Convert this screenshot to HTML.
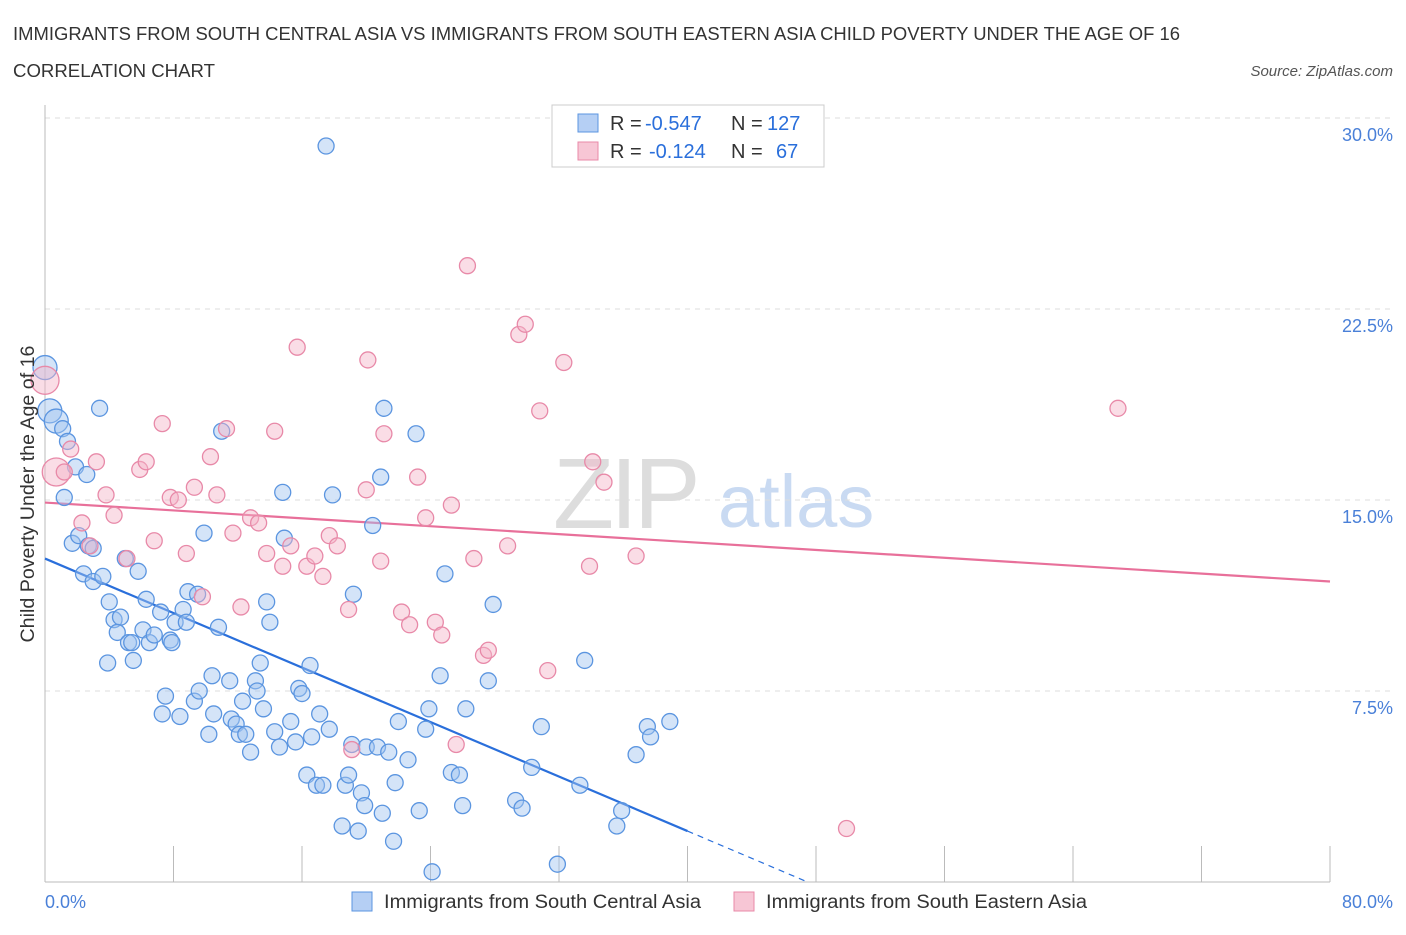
<!DOCTYPE html>
<html><head><meta charset="utf-8"><style>
body{margin:0;background:#fff;font-family:"Liberation Sans",sans-serif;}
svg text{font-family:"Liberation Sans",sans-serif;}
</style></head><body>
<svg id="chart" width="1406" height="930" viewBox="0 0 1406 930" xmlns="http://www.w3.org/2000/svg">
<text x="13" y="40" font-size="18" fill="#333" textLength="1167" lengthAdjust="spacingAndGlyphs">IMMIGRANTS FROM SOUTH CENTRAL ASIA VS IMMIGRANTS FROM SOUTH EASTERN ASIA CHILD POVERTY UNDER THE AGE OF 16</text>
<text x="13" y="77" font-size="18" fill="#333" textLength="202" lengthAdjust="spacingAndGlyphs">CORRELATION CHART</text>
<text x="1393" y="76" font-size="15" fill="#555" font-style="italic" text-anchor="end">Source: ZipAtlas.com</text>
<g>
<text x="553" y="528" font-size="100" fill="#ddd" font-family="Liberation Serif" letter-spacing="-4">ZIP</text>
<text x="718" y="527" font-size="74" fill="#c9daf2">atlas</text>
</g>
<g id="grid"></g>
<g id="axes"></g>
<g id="lines"></g>
<g id="points"></g>
<text transform="translate(34,494) rotate(-90)" font-size="19" fill="#333" text-anchor="middle" textLength="297" lengthAdjust="spacingAndGlyphs">Child Poverty Under the Age of 16</text>
<g>
<rect x="552" y="105" width="272" height="62" fill="#fff" stroke="#ccc"/>
<rect x="578" y="114" width="20" height="18" fill="#b5cff4" stroke="#5b95e0"/>
<text x="610" y="130" font-size="20" fill="#333">R =</text>
<text x="645" y="130" font-size="20" fill="#2a6fdb">-0.547</text>
<text x="731" y="130" font-size="20" fill="#333">N =</text>
<text x="767" y="130" font-size="20" fill="#2a6fdb">127</text>
<rect x="578" y="142" width="20" height="18" fill="#f7c6d5" stroke="#e889a8"/>
<text x="610" y="158" font-size="20" fill="#333">R =</text>
<text x="649" y="158" font-size="20" fill="#2a6fdb">-0.124</text>
<text x="731" y="158" font-size="20" fill="#333">N =</text>
<text x="776" y="158" font-size="20" fill="#2a6fdb">67</text>
</g>
<g>
<rect x="352" y="892" width="20" height="19" fill="#b5cff4" stroke="#5b95e0"/>
<text x="384" y="908" font-size="19" fill="#333" textLength="317" lengthAdjust="spacingAndGlyphs">Immigrants from South Central Asia</text>
<rect x="734" y="892" width="20" height="19" fill="#f7c6d5" stroke="#e889a8"/>
<text x="766" y="908" font-size="19" fill="#333" textLength="321" lengthAdjust="spacingAndGlyphs">Immigrants from South Eastern Asia</text>
</g>
</svg>
<script>
const yTicks=[7.5,15,22.5,30];
const yTickLabels=["7.5%","15.0%","22.5%","30.0%"];
const xTicks=[0,8,16,24,32,40,48,56,64,72,80];
const blueX=[17.5,0,0.3,0.7,1.1,1.4,3.4,1.9,2.6,1.2,1.7,2.1,2.7,3.0,5.0,5.8,2.4,3.0,3.6,4.0,4.3,4.7,4.5,5.2,5.4,6.3,6.1,6.5,6.8,7.2,7.8,8.1,8.6,8.9,9.5,8.8,7.9,3.9,5.5,10.8,9.9,11.0,7.5,7.3,8.4,9.3,9.6,10.4,10.5,11.5,11.6,11.9,10.2,12.1,12.5,12.8,12.3,13.1,13.2,13.4,13.6,13.8,14.0,14.3,14.6,14.8,14.9,15.3,15.6,15.8,16.0,16.5,16.6,16.3,16.9,17.3,17.1,17.7,17.9,18.7,18.9,18.5,19.1,19.2,19.5,19.7,19.9,20.0,20.4,20.7,20.9,21.0,21.1,21.4,21.7,21.8,22.0,22.6,23.1,23.3,23.7,23.9,24.1,24.6,24.9,25.3,25.8,26.0,26.2,27.6,27.9,29.3,29.7,30.3,30.9,31.9,33.3,33.6,35.6,35.9,36.8,37.5,37.7,38.9];
const blueY=[28.9,20.2,18.5,18.1,17.8,17.3,18.6,16.3,16.0,15.1,13.3,13.6,13.2,13.1,12.7,12.2,12.1,11.8,12.0,11.0,10.3,10.4,9.8,9.4,9.4,11.1,9.9,9.4,9.7,10.6,9.5,10.2,10.7,11.4,11.3,10.2,9.4,8.6,8.7,10.0,13.7,17.7,7.3,6.6,6.5,7.1,7.5,8.1,6.6,7.9,6.4,6.2,5.8,5.8,5.8,5.1,7.1,7.9,7.5,8.6,6.8,11.0,10.2,5.9,5.3,15.3,13.5,6.3,5.5,7.6,7.4,8.5,5.7,4.2,3.8,3.8,6.6,6.0,15.2,3.8,4.2,2.2,5.4,11.3,2.0,3.5,3.0,5.3,14.0,5.3,15.9,2.7,18.6,5.1,1.6,3.9,6.3,4.8,17.6,2.8,6.0,6.8,0.4,8.1,12.1,4.3,4.2,3.0,6.8,7.9,10.9,3.2,2.9,4.5,6.1,0.7,3.8,8.7,2.2,2.8,5.0,6.1,5.7,6.3];
const pinkX=[0,0.7,1.6,1.2,2.3,2.8,3.2,3.8,4.3,5.1,5.9,6.3,6.8,7.3,7.8,8.3,8.8,9.3,9.8,10.3,10.7,11.3,11.7,12.2,12.8,13.3,13.8,14.3,14.8,15.3,15.7,16.3,16.8,17.3,17.7,18.2,18.9,19.1,20.0,20.1,20.9,21.1,22.2,22.7,23.2,23.7,24.3,24.7,25.3,25.6,26.3,26.7,27.3,27.6,28.8,29.5,29.9,30.8,31.3,32.3,33.9,34.1,34.8,36.8,49.9,66.8];
const pinkY=[19.7,16.1,17.0,16.1,14.1,13.2,16.5,15.2,14.4,12.7,16.2,16.5,13.4,18.0,15.1,15.0,12.9,15.5,11.2,16.7,15.2,17.8,13.7,10.8,14.3,14.1,12.9,17.7,12.4,13.2,21.0,12.4,12.8,12.0,13.6,13.2,10.7,5.2,15.4,20.5,12.6,17.6,10.6,10.1,15.9,14.3,10.2,9.7,14.8,5.4,24.2,12.7,8.9,9.1,13.2,21.5,21.9,18.5,8.3,20.4,12.4,16.5,15.7,12.8,2.1,18.6];
const blueLarge=[1,2,3];
const pinkLarge=[0,1];
const blueTrend=[12.7,-0.2675];
const pinkTrend=[14.9,-0.03875];

const X0=45,X1=1330,Y0=882,PX=(X1-X0)/80,PY=191/7.5;
const sx=v=>X0+v*PX, sy=v=>Y0-v*PY;
const NS="http://www.w3.org/2000/svg";
function mk(tag,parent,attrs){const e=document.createElementNS(NS,tag);for(const k in attrs)e.setAttribute(k,attrs[k]);document.getElementById(parent).appendChild(e);return e;}

yTicks.forEach((t,i)=>{
 const g=mk('line','grid',{x1:X0,x2:1393,y1:sy(t),y2:sy(t),stroke:'#ddd','stroke-dasharray':'5,5'});
 
 
 const l=mk('text','axes',{x:1393,y:sy(t)+23,'font-size':18,fill:'#4a80d8','text-anchor':'end'});
 l.textContent=yTickLabels[i];
 
 
});
const ax=mk('line','axes',{x1:X0,x2:X1,y1:Y0,y2:Y0,stroke:'#bbb'});


const ay=mk('line','axes',{x1:X0,x2:X0,y1:105,y2:Y0,stroke:'#bbb'});


xTicks.forEach(t=>{
 const tk=mk('line','axes',{x1:sx(t),x2:sx(t),y1:Y0-36,y2:Y0,stroke:'#bbb'});
 
 
});
const xl0=mk('text','axes',{x:45,y:908,'font-size':18,fill:'#4a80d8'});xl0.textContent='0.0%';


const xl1=mk('text','axes',{x:1393,y:908,'font-size':18,fill:'#4a80d8','text-anchor':'end'});xl1.textContent='80.0%';



blueX.forEach((x,i)=>{
 const r=blueLarge.includes(i)?12:8;
 const c=mk('circle','points',{cx:sx(x),cy:sy(blueY[i]),r:r,fill:'rgba(160,195,240,0.45)',stroke:'#5b95e0','stroke-width':1.3});
 
 
});
pinkX.forEach((x,i)=>{
 const r=pinkLarge.includes(i)?14:8;
 const c=mk('circle','points',{cx:sx(x),cy:sy(pinkY[i]),r:r,fill:'rgba(245,180,200,0.45)',stroke:'#e889a8','stroke-width':1.3});
 
 
});
const bEnd=40, bZero=-blueTrend[0]/blueTrend[1];
const bl=mk('line','lines',{x1:sx(0),y1:sy(blueTrend[0]),x2:sx(bEnd),y2:sy(blueTrend[0]+blueTrend[1]*bEnd),stroke:'#2a6fdb','stroke-width':2.2});


const bd=mk('line','lines',{x1:sx(bEnd),y1:sy(blueTrend[0]+blueTrend[1]*bEnd),x2:sx(bZero),y2:sy(0),stroke:'#2a6fdb','stroke-width':1.2,'stroke-dasharray':'6,5'});


const pl=mk('line','lines',{x1:sx(0),y1:sy(pinkTrend[0]),x2:sx(80),y2:sy(pinkTrend[0]+pinkTrend[1]*80),stroke:'#e8709a','stroke-width':2.2});


</script>
</body></html>
